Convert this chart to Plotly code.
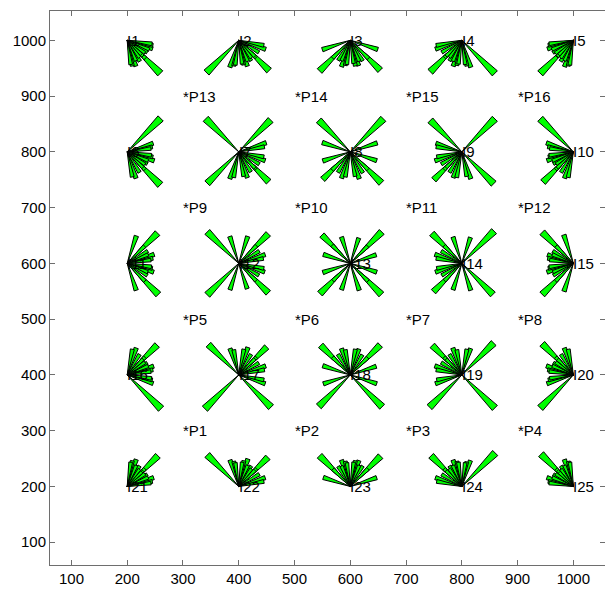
import math
import plotly.graph_objects as go

# Receiver nodes I1..I25 on a 5x5 grid
node_names = ["I1", "I2", "I3", "I4", "I5",
              "I6", "I7", "I8", "I9", "I10",
              "I11", "I12", "I13", "I14", "I15",
              "I16", "I17", "I18", "I19", "I20",
              "I21", "I22", "I23", "I24", "I25"]
node_x = [200, 400, 600, 800, 1000,
          200, 400, 600, 800, 1000,
          200, 400, 600, 800, 1000,
          200, 400, 600, 800, 1000,
          200, 400, 600, 800, 1000]
node_y = [1000, 1000, 1000, 1000, 1000,
          800, 800, 800, 800, 800,
          600, 600, 600, 600, 600,
          400, 400, 400, 400, 400,
          200, 200, 200, 200, 200]

# Source points P1..P16
p_names = ["*P1", "*P2", "*P3", "*P4", "*P5", "*P6", "*P7", "*P8",
           "*P9", "*P10", "*P11", "*P12", "*P13", "*P14", "*P15", "*P16"]
p_x = [300, 500, 700, 900, 300, 500, 700, 900,
       300, 500, 700, 900, 300, 500, 700, 900]
p_y = [300, 300, 300, 300, 500, 500, 500, 500,
       700, 700, 700, 700, 900, 900, 900, 900]

# Ray magnitude from each node (row) towards P1..P16 (columns)
ray_len = [
    [44, 40, 38, 36, 47, 44, 40, 39, 49, 46, 42, 43, 84, 48, 47, 45],   # I1
    [45, 43, 41, 39, 47, 45, 43, 41, 51, 49, 44, 42, 82, 77, 51, 46],   # I2
    [40, 44, 42, 41, 42, 46, 47, 43, 45, 50, 48, 46, 53, 78, 76, 52],   # I3
    [38, 41, 43, 44, 40, 43, 46, 47, 42, 44, 49, 51, 47, 50, 80, 84],   # I4
    [37, 39, 40, 45, 40, 41, 44, 47, 42, 43, 42, 50, 44, 46, 49, 84],   # I5
    [46, 43, 40, 39, 50, 45, 42, 41, 84, 51, 47, 44, 85, 49, 46, 43],   # I6
    [47, 45, 42, 41, 51, 49, 44, 43, 80, 76, 50, 46, 84, 81, 52, 47],   # I7
    [43, 46, 45, 44, 46, 50, 51, 45, 52, 70, 79, 50, 53, 80, 84, 51],   # I8
    [40, 43, 47, 45, 43, 45, 49, 51, 46, 51, 71, 81, 47, 49, 80, 84],   # I9
    [38, 41, 43, 47, 41, 42, 45, 50, 44, 46, 50, 77, 43, 47, 51, 84],   # I10
    [51, 45, 42, 40, 79, 50, 46, 44, 77, 51, 47, 43, 52, 44, 43, 41],   # I11
    [50, 48, 44, 42, 80, 75, 49, 46, 80, 75, 50, 45, 51, 51, 45, 43],   # I12
    [44, 50, 51, 45, 52, 77, 79, 50, 51, 72, 80, 49, 46, 50, 48, 44],   # I13
    [42, 44, 50, 51, 46, 50, 72, 79, 47, 51, 76, 82, 43, 45, 50, 49],   # I14
    [40, 42, 45, 53, 44, 46, 50, 79, 43, 47, 49, 79, 41, 43, 44, 54],   # I15
    [86, 49, 46, 44, 76, 50, 47, 43, 51, 45, 42, 41, 47, 43, 40, 39],   # I16
    [86, 82, 50, 46, 77, 71, 51, 47, 50, 52, 45, 42, 46, 47, 43, 41],   # I17
    [51, 80, 81, 50, 52, 75, 76, 49, 45, 50, 49, 44, 43, 46, 47, 42],   # I18
    [46, 50, 82, 84, 47, 51, 75, 81, 43, 45, 51, 50, 40, 43, 46, 47],   # I19
    [43, 46, 50, 84, 44, 47, 51, 79, 41, 42, 45, 51, 39, 40, 43, 47],   # I20
    [78, 50, 46, 43, 51, 45, 42, 41, 47, 43, 40, 39, 44, 41, 38, 37],   # I21
    [80, 74, 50, 46, 50, 52, 45, 43, 46, 47, 43, 41, 43, 44, 41, 39],   # I22
    [51, 78, 77, 50, 44, 50, 49, 45, 42, 46, 47, 43, 40, 43, 44, 41],   # I23
    [46, 50, 78, 85, 42, 45, 50, 49, 40, 43, 46, 45, 39, 41, 44, 43],   # I24
    [44, 46, 50, 82, 41, 42, 44, 51, 39, 40, 43, 46, 36, 38, 41, 44],   # I25
]

HALF_WIDTH = math.radians(4.4)   # half opening angle of each wedge
FONT = "Liberation Sans, Arial, Helvetica, sans-serif"

fig = go.Figure()

for k in range(len(node_names)):
    x0, y0 = node_x[k], node_y[k]
    rays = []
    for j in range(len(p_names)):
        ang = math.atan2(p_y[j] - y0, p_x[j] - x0)
        rays.append((ray_len[k][j], ang))
    # longer wedges first so the shorter ones stay visible on top
    rays.sort(key=lambda r: -r[0])
    for length, ang in rays:
        xs = [x0,
              x0 + length * math.cos(ang - HALF_WIDTH),
              x0 + length * math.cos(ang + HALF_WIDTH),
              x0]
        ys = [y0,
              y0 + length * math.sin(ang - HALF_WIDTH),
              y0 + length * math.sin(ang + HALF_WIDTH),
              y0]
        fig.add_trace(go.Scatter(
            x=xs, y=ys, mode="lines", fill="toself",
            fillcolor="#00ff00",
            line=dict(color="black", width=1),
            hoverinfo="skip", showlegend=False))

annotations = []
for name, x, y in zip(node_names, node_x, node_y):
    annotations.append(dict(x=x, y=y, text=name, showarrow=False,
                            xanchor="left", yanchor="middle", xshift=-2,
                            font=dict(family=FONT, size=15, color="black")))
for name, x, y in zip(p_names, p_x, p_y):
    annotations.append(dict(x=x, y=y, text=name, showarrow=False,
                            xanchor="left", yanchor="middle", xshift=-2,
                            font=dict(family=FONT, size=15, color="black")))

axis_common = dict(
    showgrid=False, zeroline=False,
    showline=True, linecolor="#6e6e6e", linewidth=1,
    mirror="ticks", ticks="inside", ticklen=5, tickcolor="#6e6e6e",
    tickfont=dict(family=FONT, size=15, color="black"),
    tickmode="array",
    tickvals=[100, 200, 300, 400, 500, 600, 700, 800, 900, 1000],
)

fig.update_layout(
    width=605, height=599,
    margin=dict(l=50, r=0, t=11, b=34),
    paper_bgcolor="white", plot_bgcolor="white",
    annotations=annotations,
    xaxis=dict(range=[61.5, 1056.8], **axis_common),
    yaxis=dict(range=[59.1, 1052.6], **axis_common),
)

fig.write_html("out.html")
